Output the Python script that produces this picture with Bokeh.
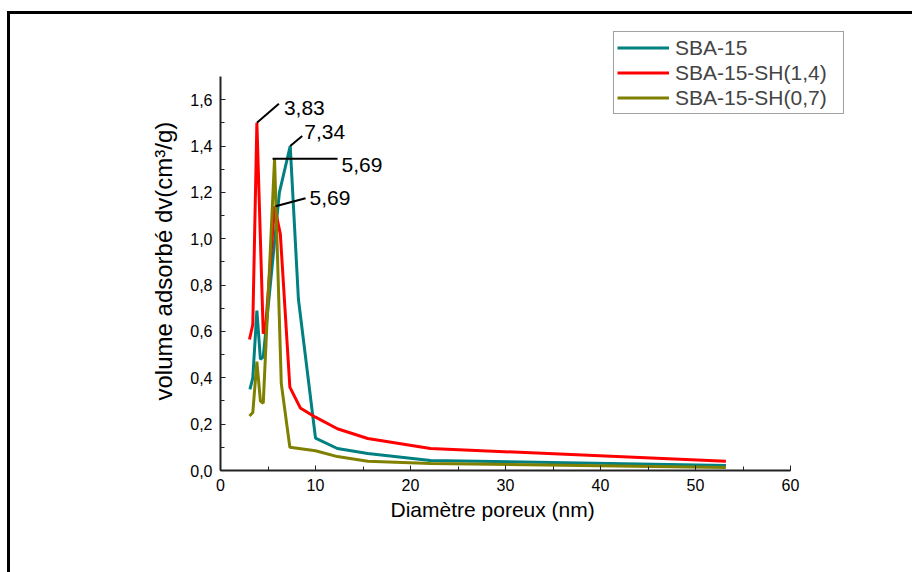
from bokeh.plotting import figure
from bokeh.models import (Range1d, SingleIntervalTicker, CustomJSTickFormatter,
                          Legend, LegendItem, ColumnDataSource, Title)
from bokeh.embed import file_html
from bokeh.resources import INLINE
from bokeh.core.properties import value

# Pore size distributions (diameter in nm, adsorbed volume dV in cm3/g)
sba15_x = [3.1, 3.4, 3.83, 4.2, 4.5, 6.2, 7.34, 8.2, 10.0, 12.3, 15.5, 22.1, 53.2]
sba15_y = [0.35, 0.40, 0.69, 0.48, 0.49, 1.20, 1.40, 0.74, 0.14, 0.095, 0.073, 0.043, 0.022]

sh14_x = [3.05, 3.4, 3.83, 4.5, 4.75, 5.69, 6.3, 7.3, 8.4, 10.0, 12.3, 15.5, 22.1, 53.2]
sh14_y = [0.565, 0.63, 1.50, 0.59, 0.62, 1.14, 1.02, 0.36, 0.27, 0.23, 0.18, 0.138, 0.095, 0.040]

sh07_x = [3.05, 3.4, 3.83, 4.2, 4.5, 5.69, 6.4, 7.3, 10.0, 12.3, 15.5, 22.1, 53.2]
sh07_y = [0.235, 0.25, 0.47, 0.30, 0.29, 1.345, 0.375, 0.10, 0.085, 0.06, 0.04, 0.03, 0.013]

series_names = ["SBA-15", "SBA-15-SH(1,4)", "SBA-15-SH(0,7)"]
series_colors = ["#008080", "#FF0000", "#808000"]

# Peak labels: diameter value, which series it sits on, leader end and text offsets (px)
peak_x = [3.83, 7.34, 5.69, 5.69]
peak_series = [1, 0, 2, 1]
peak_labels = ["3,83", "7,34", "5,69", "5,69"]
lead_start = [(0, 0), (0, 0), (-2, 0), (1, 0)]
lead_end = [(22, -19), (12, -10), (63, 0), (31, -8)]
text_off = [(27, -15), (14, -14), (67, 6), (35, -8)]

x_title = "Diamètre poreux (nm)"
y_title = "volume adsorbé dv(cm³/g)"

# Axis extents (the plotting area is wider/taller so the legend fits inside it)
x_axis_bounds = (0, 60)
y_axis_bounds = (0, 1.7)
x_ticks_interval = 10
y_ticks_interval = 0.2

FONT = "Liberation Sans"
PX_X, PX_Y = 9.5, 232.0          # pixels per data unit
X0, X1, Y0, Y1 = 0, 66, 0, 1.92
FRAME_W = int(round((X1 - X0) * PX_X))
FRAME_H = int(round((Y1 - Y0) * PX_Y))

p = figure(frame_width=FRAME_W, frame_height=FRAME_H,
           x_range=Range1d(X0, X1), y_range=Range1d(Y0, Y1),
           output_backend="svg", toolbar_location=None,
           min_border_left=210, min_border_right=902 - 210 - FRAME_W,
           min_border_top=456 - FRAME_H, min_border_bottom=102,
           margin=(11, 0, 0, 7),
           styles={"border-top": "3px solid black", "border-left": "3px solid black"})
p.outline_line_color = None
p.xgrid.visible = False
p.ygrid.visible = False
p.background_fill_color = "white"
p.border_fill_color = "white"

xs_all = [sba15_x, sh14_x, sh07_x]
ys_all = [sba15_y, sh14_y, sh07_y]
renderers = []
for xs, ys, c in zip(xs_all, ys_all, series_colors):
    r = p.line(xs, ys, line_color=c, line_width=3)
    renderers.append(r)

# Leader lines and peak value labels
sx = FRAME_W / (X1 - X0)
sy = FRAME_H / (Y1 - Y0)
ax, ay, x0s, y0s, x1s, y1s, xo, yo = [], [], [], [], [], [], [], []
for px, si, (s_dx, s_dy), (e_dx, e_dy), (t_dx, t_dy) in zip(
        peak_x, peak_series, lead_start, lead_end, text_off):
    py = ys_all[si][xs_all[si].index(px)]
    ax.append(px)
    ay.append(py)
    x0s.append(px + s_dx / sx)
    y0s.append(py - s_dy / sy)
    x1s.append(px + e_dx / sx)
    y1s.append(py - e_dy / sy)
    xo.append(t_dx)
    yo.append(t_dy)

p.segment(x0=x0s, y0=y0s, x1=x1s, y1=y1s, line_color="black", line_width=2)
src = ColumnDataSource(dict(x=ax, y=ay, t=peak_labels, xo=xo, yo=yo))
p.text(x="x", y="y", text="t", x_offset="xo", y_offset="yo", source=src,
       text_font=value(FONT), text_font_size="21px", text_color="black",
       text_align="left", text_baseline="middle")

# Axes
fmt = CustomJSTickFormatter(code="return tick.toFixed(1).replace('.', ',');")
p.yaxis.ticker = SingleIntervalTicker(interval=y_ticks_interval, num_minor_ticks=2)
p.yaxis.formatter = fmt
p.yaxis.bounds = y_axis_bounds
p.xaxis.ticker = SingleIntervalTicker(interval=x_ticks_interval, num_minor_ticks=2)
p.xaxis.bounds = x_axis_bounds
for ax_ in (p.xaxis, p.yaxis):
    ax_.axis_line_color = "#222222"
    ax_.axis_line_width = 2
    ax_.major_tick_line_color = "#222222"
    ax_.minor_tick_line_color = "#222222"
    ax_.major_tick_in = 5
    ax_.major_tick_out = 0
    ax_.minor_tick_in = 4
    ax_.minor_tick_out = 0
    ax_.major_label_text_font = FONT
    ax_.major_label_text_font_size = "16px"
    ax_.major_label_text_color = "black"
p.xaxis.major_label_standoff = 8
p.yaxis.major_label_standoff = 8

# Axis titles placed along the axis spans (not the wider plotting area)
p.add_layout(Title(text=x_title, align="left", offset=170, standoff=4,
                   text_font=FONT, text_font_size="21px", text_font_style="normal",
                   text_color="black"), "below")
p.add_layout(Title(text=y_title, align="left", offset=70, standoff=22,
                   text_font=FONT, text_font_size="24px", text_font_style="normal",
                   text_color="black"), "left")

legend = Legend(items=[LegendItem(label=n, renderers=[r]) for n, r in zip(series_names, renderers)],
                location=(393, 356), orientation="vertical",
                label_text_font=FONT, label_text_font_size="21px",
                glyph_width=52, glyph_height=25, label_height=25, label_width=165,
                label_standoff=6, spacing=0, padding=3, margin=0,
                border_line_color="#444444", border_line_width=1,
                background_fill_color="white", background_fill_alpha=1)
p.add_layout(legend)

open("out.html", "w").write(file_html(p, INLINE))
